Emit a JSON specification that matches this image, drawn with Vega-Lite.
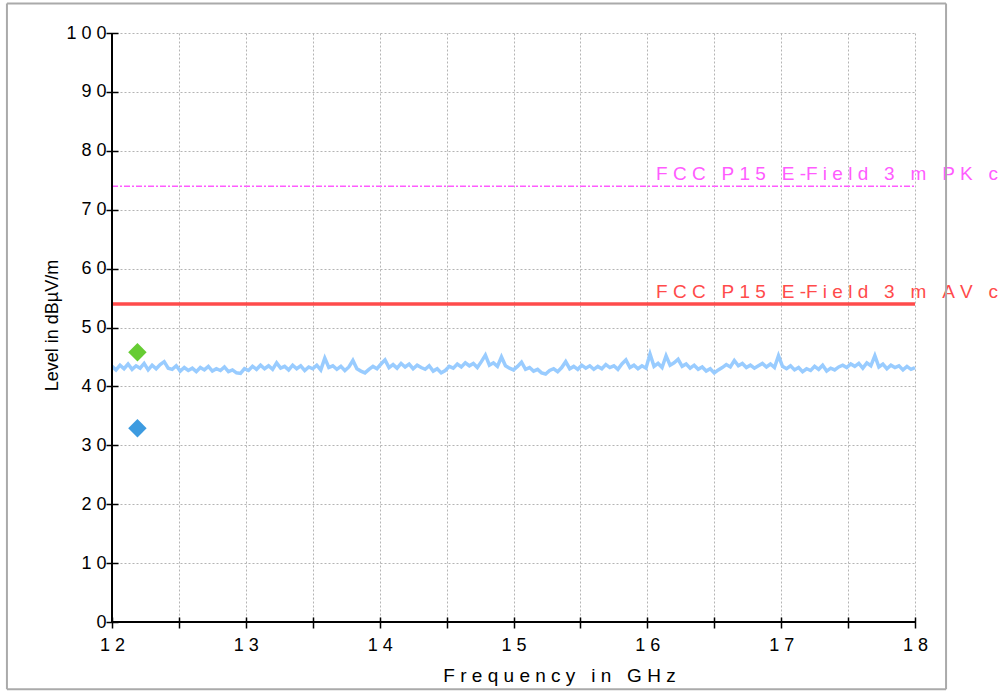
{
  "$schema": "https://vega.github.io/schema/vega-lite/v6.json",
  "width": 803,
  "height": 589,
  "autosize": {"type": "none"},
  "padding": {"left": 112, "top": 33, "right": 87, "bottom": 69},
  "background": "white",
  "config": {"view": {"stroke": null}, "font": "Liberation Sans"},
  "data": {"values": [{"frame": 1}]},
  "datasets": {
    "trace": [
      {"f":12.00,"level":43.4},{"f":12.03,"level":42.8},{"f":12.06,"level":43.6},{"f":12.09,"level":43.0},{"f":12.12,"level":43.8},{"f":12.15,"level":42.9},{"f":12.18,"level":43.5},{"f":12.21,"level":43.1},{"f":12.24,"level":43.9},{"f":12.27,"level":42.8},
      {"f":12.30,"level":43.6},{"f":12.33,"level":43.0},{"f":12.36,"level":43.7},{"f":12.39,"level":44.2},{"f":12.42,"level":43.1},{"f":12.45,"level":42.9},{"f":12.48,"level":43.5},{"f":12.51,"level":42.6},{"f":12.54,"level":43.2},{"f":12.57,"level":42.7},
      {"f":12.60,"level":43.1},{"f":12.63,"level":42.5},{"f":12.66,"level":43.2},{"f":12.69,"level":42.8},{"f":12.72,"level":43.4},{"f":12.75,"level":42.6},{"f":12.78,"level":43.0},{"f":12.81,"level":42.7},{"f":12.84,"level":43.3},{"f":12.87,"level":42.5},
      {"f":12.90,"level":42.8},{"f":12.93,"level":42.3},{"f":12.96,"level":42.2},{"f":12.99,"level":43.0},{"f":13.02,"level":42.7},{"f":13.05,"level":43.4},{"f":13.08,"level":42.9},{"f":13.11,"level":43.6},{"f":13.14,"level":43.0},{"f":13.17,"level":43.5},
      {"f":13.20,"level":42.9},{"f":13.23,"level":44.0},{"f":13.26,"level":43.1},{"f":13.29,"level":43.4},{"f":13.32,"level":42.8},{"f":13.35,"level":43.6},{"f":13.38,"level":43.0},{"f":13.41,"level":43.5},{"f":13.44,"level":42.7},{"f":13.47,"level":43.3},
      {"f":13.50,"level":43.0},{"f":13.53,"level":43.6},{"f":13.56,"level":42.8},{"f":13.59,"level":44.8},{"f":13.62,"level":43.2},{"f":13.65,"level":43.5},{"f":13.68,"level":42.9},{"f":13.71,"level":43.4},{"f":13.74,"level":42.7},{"f":13.77,"level":43.3},
      {"f":13.80,"level":44.4},{"f":13.83,"level":43.0},{"f":13.86,"level":42.6},{"f":13.89,"level":42.3},{"f":13.92,"level":42.9},{"f":13.95,"level":43.4},{"f":13.98,"level":43.0},{"f":14.01,"level":43.8},{"f":14.04,"level":44.5},{"f":14.07,"level":43.2},
      {"f":14.10,"level":43.7},{"f":14.13,"level":43.1},{"f":14.16,"level":43.9},{"f":14.19,"level":43.3},{"f":14.22,"level":43.8},{"f":14.25,"level":43.0},{"f":14.28,"level":43.6},{"f":14.31,"level":43.2},{"f":14.34,"level":42.9},{"f":14.37,"level":43.5},
      {"f":14.40,"level":42.6},{"f":14.43,"level":43.0},{"f":14.46,"level":42.3},{"f":14.49,"level":42.7},{"f":14.52,"level":43.4},{"f":14.55,"level":43.1},{"f":14.58,"level":43.8},{"f":14.61,"level":43.3},{"f":14.64,"level":44.0},{"f":14.67,"level":43.5},
      {"f":14.70,"level":43.9},{"f":14.73,"level":43.2},{"f":14.76,"level":44.2},{"f":14.79,"level":45.3},{"f":14.82,"level":43.6},{"f":14.85,"level":44.0},{"f":14.88,"level":43.4},{"f":14.91,"level":45.0},{"f":14.94,"level":43.5},{"f":14.97,"level":43.1},
      {"f":15.00,"level":42.8},{"f":15.03,"level":43.4},{"f":15.06,"level":44.1},{"f":15.09,"level":42.9},{"f":15.12,"level":43.2},{"f":15.15,"level":42.6},{"f":15.18,"level":42.9},{"f":15.21,"level":42.3},{"f":15.24,"level":42.1},{"f":15.27,"level":42.7},
      {"f":15.30,"level":43.0},{"f":15.33,"level":42.5},{"f":15.36,"level":43.2},{"f":15.39,"level":44.2},{"f":15.42,"level":43.0},{"f":15.45,"level":43.4},{"f":15.48,"level":42.9},{"f":15.51,"level":43.6},{"f":15.54,"level":43.1},{"f":15.57,"level":43.5},
      {"f":15.60,"level":42.9},{"f":15.63,"level":43.4},{"f":15.66,"level":43.0},{"f":15.69,"level":43.7},{"f":15.72,"level":43.2},{"f":15.75,"level":43.5},{"f":15.78,"level":42.9},{"f":15.81,"level":43.8},{"f":15.84,"level":44.5},{"f":15.87,"level":43.2},
      {"f":15.90,"level":43.6},{"f":15.93,"level":43.0},{"f":15.96,"level":43.5},{"f":15.99,"level":43.1},{"f":16.02,"level":45.5},{"f":16.05,"level":43.4},{"f":16.08,"level":43.9},{"f":16.11,"level":43.2},{"f":16.14,"level":45.2},{"f":16.17,"level":43.6},
      {"f":16.20,"level":44.0},{"f":16.23,"level":44.6},{"f":16.26,"level":43.4},{"f":16.29,"level":43.8},{"f":16.32,"level":43.1},{"f":16.35,"level":43.6},{"f":16.38,"level":42.9},{"f":16.41,"level":43.3},{"f":16.44,"level":42.6},{"f":16.47,"level":43.0},
      {"f":16.50,"level":42.3},{"f":16.53,"level":42.8},{"f":16.56,"level":43.2},{"f":16.59,"level":43.7},{"f":16.62,"level":43.3},{"f":16.65,"level":44.4},{"f":16.68,"level":43.5},{"f":16.71,"level":43.9},{"f":16.74,"level":43.2},{"f":16.77,"level":43.6},
      {"f":16.80,"level":43.1},{"f":16.83,"level":43.5},{"f":16.86,"level":43.9},{"f":16.89,"level":43.3},{"f":16.92,"level":43.8},{"f":16.95,"level":43.2},{"f":16.98,"level":45.2},{"f":17.01,"level":43.4},{"f":17.04,"level":43.0},{"f":17.07,"level":43.5},
      {"f":17.10,"level":42.8},{"f":17.13,"level":43.2},{"f":17.16,"level":42.5},{"f":17.19,"level":43.0},{"f":17.22,"level":42.7},{"f":17.25,"level":43.4},{"f":17.28,"level":42.9},{"f":17.31,"level":43.6},{"f":17.34,"level":42.6},{"f":17.37,"level":43.1},
      {"f":17.40,"level":42.8},{"f":17.43,"level":43.3},{"f":17.46,"level":43.6},{"f":17.49,"level":43.2},{"f":17.52,"level":43.8},{"f":17.55,"level":43.4},{"f":17.58,"level":43.9},{"f":17.61,"level":43.1},{"f":17.64,"level":44.0},{"f":17.67,"level":43.5},
      {"f":17.70,"level":45.2},{"f":17.73,"level":43.3},{"f":17.76,"level":43.8},{"f":17.79,"level":43.0},{"f":17.82,"level":43.6},{"f":17.85,"level":43.2},{"f":17.88,"level":43.5},{"f":17.91,"level":42.8},{"f":17.94,"level":43.4},{"f":17.97,"level":42.9},
      {"f":18.00,"level":43.2}
    ],
    "limits": [
      {"kind": "PK", "level": 74, "f": 12, "f1": 18, "label": "F\u00a0C\u00a0C\u00a0\u00a0\u00a0P\u00a01\u00a05\u00a0\u00a0\u00a0E\u00a0-F\u00a0i\u00a0e\u00a0l\u00a0d\u00a0\u00a0\u00a03\u00a0\u00a0\u00a0m\u00a0\u00a0\u00a0P\u00a0K\u00a0\u00a0\u00a0c\u00a0l\u00a0a\u00a0s\u00a0s\u00a0\u00a0\u00a0B"},
      {"kind": "AV", "level": 54, "f": 12, "f1": 18, "label": "F\u00a0C\u00a0C\u00a0\u00a0\u00a0P\u00a01\u00a05\u00a0\u00a0\u00a0E\u00a0-F\u00a0i\u00a0e\u00a0l\u00a0d\u00a0\u00a0\u00a03\u00a0\u00a0\u00a0m\u00a0\u00a0\u00a0A\u00a0V\u00a0\u00a0\u00a0c\u00a0l\u00a0a\u00a0s\u00a0s\u00a0\u00a0\u00a0B"}
    ],
    "markers": [
      {"kind": "Peak", "f": 12.19, "level": 45.8},
      {"kind": "Average", "f": 12.19, "level": 32.9}
    ]
  },
  "resolve": {"scale": {"color": "independent", "strokeWidth": "independent", "strokeDash": "independent"}},
  "layer": [
    {
      "data": {"name": "trace"},
      "mark": {"type": "line", "color": "#99ccff", "strokeWidth": 3.5},
      "encoding": {
        "x": {
          "field": "f", "type": "quantitative",
          "scale": {"domain": [12, 18], "nice": false, "zero": false},
          "axis": {
            "orient": "bottom",
            "offset": -5,
            "values": [12, 12.5, 13, 13.5, 14, 14.5, 15, 15.5, 16, 16.5, 17, 17.5, 18],
            "labelExpr": "datum.value % 1 == 0 ? join(split('' + datum.value, ''), ' ') : ''",
            "domain": false,
            "tickSize": 11,
            "tickColor": "black",
            "tickWidth": 1.5,
            "labelFontSize": 18,
            "labelColor": "black",
            "labelPadding": 8,
            "labelFlush": false,
            "labelOverlap": false,
            "grid": true,
            "gridColor": "#b4b4b4",
            "gridDash": [2, 2],
            "gridWidth": 1,
            "title": "F\u00a0r\u00a0e\u00a0q\u00a0u\u00a0e\u00a0n\u00a0c\u00a0y\u00a0\u00a0\u00a0i\u00a0n\u00a0\u00a0\u00a0G\u00a0H\u00a0z",
            "titleFontSize": 19,
            "titleFontWeight": "normal",
            "titleColor": "black",
            "titleX": 447,
            "titleY": 58,
            "titleAlign": "center",
            "titleBaseline": "middle"
          }
        },
        "y": {
          "field": "level", "type": "quantitative",
          "scale": {"domain": [0, 100], "nice": false, "zero": false},
          "axis": {
            "orient": "left",
            "offset": -6,
            "values": [0, 5, 10, 15, 20, 25, 30, 35, 40, 45, 50, 55, 60, 65, 70, 75, 80, 85, 90, 95, 100],
            "labelExpr": "datum.value % 10 == 0 ? join(split('' + datum.value, ''), ' ') : ''",
            "domain": false,
            "tickSize": 12,
            "tickColor": "black",
            "tickWidth": 1.5,
            "labelFontSize": 18,
            "labelColor": "black",
            "labelPadding": 0,
            "labelFlush": false,
            "labelOverlap": false,
            "grid": true,
            "gridColor": "#b4b4b4",
            "gridDash": [2, 2],
            "gridWidth": 1,
            "title": "Level in dBµV/m",
            "titleFontSize": 18,
            "titleFontWeight": "normal",
            "titleColor": "black",
            "titleX": -66,
            "titleY": 292,
            "titleAngle": -90,
            "titleAlign": "center",
            "titleBaseline": "middle"
          }
        }
      }
    },
    {
      "data": {"name": "limits"},
      "mark": {"type": "rule"},
      "encoding": {
        "x": {"field": "f", "type": "quantitative"},
        "x2": {"field": "f1"},
        "y": {"field": "level", "type": "quantitative"},
        "color": {"field": "kind", "type": "nominal", "scale": {"domain": ["PK", "AV"], "range": ["#ff5cff", "#ff4b4b"]}, "legend": null},
        "strokeWidth": {"field": "kind", "type": "nominal", "scale": {"domain": ["PK", "AV"], "range": [1.5, 3.5]}, "legend": null},
        "strokeDash": {"field": "kind", "type": "nominal", "scale": {"domain": ["PK", "AV"], "range": [[6, 2, 2, 2], [1, 0]]}, "legend": null}
      }
    },
    {
      "data": {"name": "limits"},
      "mark": {"type": "text", "align": "left", "baseline": "alphabetic", "dy": -6, "fontSize": 19, "font": "Liberation Sans"},
      "encoding": {
        "x": {"datum": 16.065},
        "y": {"field": "level", "type": "quantitative"},
        "text": {"field": "label"},
        "color": {"field": "kind", "type": "nominal", "scale": {"domain": ["PK", "AV"], "range": ["#ff5cff", "#ff4b4b"]}, "legend": null}
      }
    },
    {
      "mark": {"type": "rule", "color": "black", "strokeWidth": 2},
      "encoding": {"x": {"datum": 12}, "y": {"datum": 100}, "y2": {"datum": 0}}
    },
    {
      "mark": {"type": "rule", "color": "black", "strokeWidth": 2},
      "encoding": {"y": {"datum": 0}, "x": {"datum": 12}, "x2": {"datum": 18}}
    },
    {
      "data": {"name": "markers"},
      "mark": {"type": "point", "shape": "diamond", "filled": true, "size": 340, "opacity": 1},
      "encoding": {
        "x": {"field": "f", "type": "quantitative"},
        "y": {"field": "level", "type": "quantitative"},
        "color": {"field": "kind", "type": "nominal", "scale": {"domain": ["Peak", "Average"], "range": ["#66cc33", "#3d9be0"]}, "legend": null}
      }
    },
    {
      "mark": {"type": "rule", "color": "#aaaaaa", "strokeWidth": 2},
      "encoding": {"x": {"datum": 11.215}, "y": {"datum": 105}, "y2": {"datum": -11.4}}
    },
    {
      "mark": {"type": "rule", "color": "#aaaaaa", "strokeWidth": 2},
      "encoding": {"x": {"datum": 18.232}, "y": {"datum": 105}, "y2": {"datum": -11.4}}
    },
    {
      "mark": {"type": "rule", "color": "#aaaaaa", "strokeWidth": 2},
      "encoding": {"y": {"datum": 105}, "x": {"datum": 11.215}, "x2": {"datum": 18.232}}
    },
    {
      "mark": {"type": "rule", "color": "#aaaaaa", "strokeWidth": 2},
      "encoding": {"y": {"datum": -11.4}, "x": {"datum": 11.215}, "x2": {"datum": 18.232}}
    }
  ]
}
